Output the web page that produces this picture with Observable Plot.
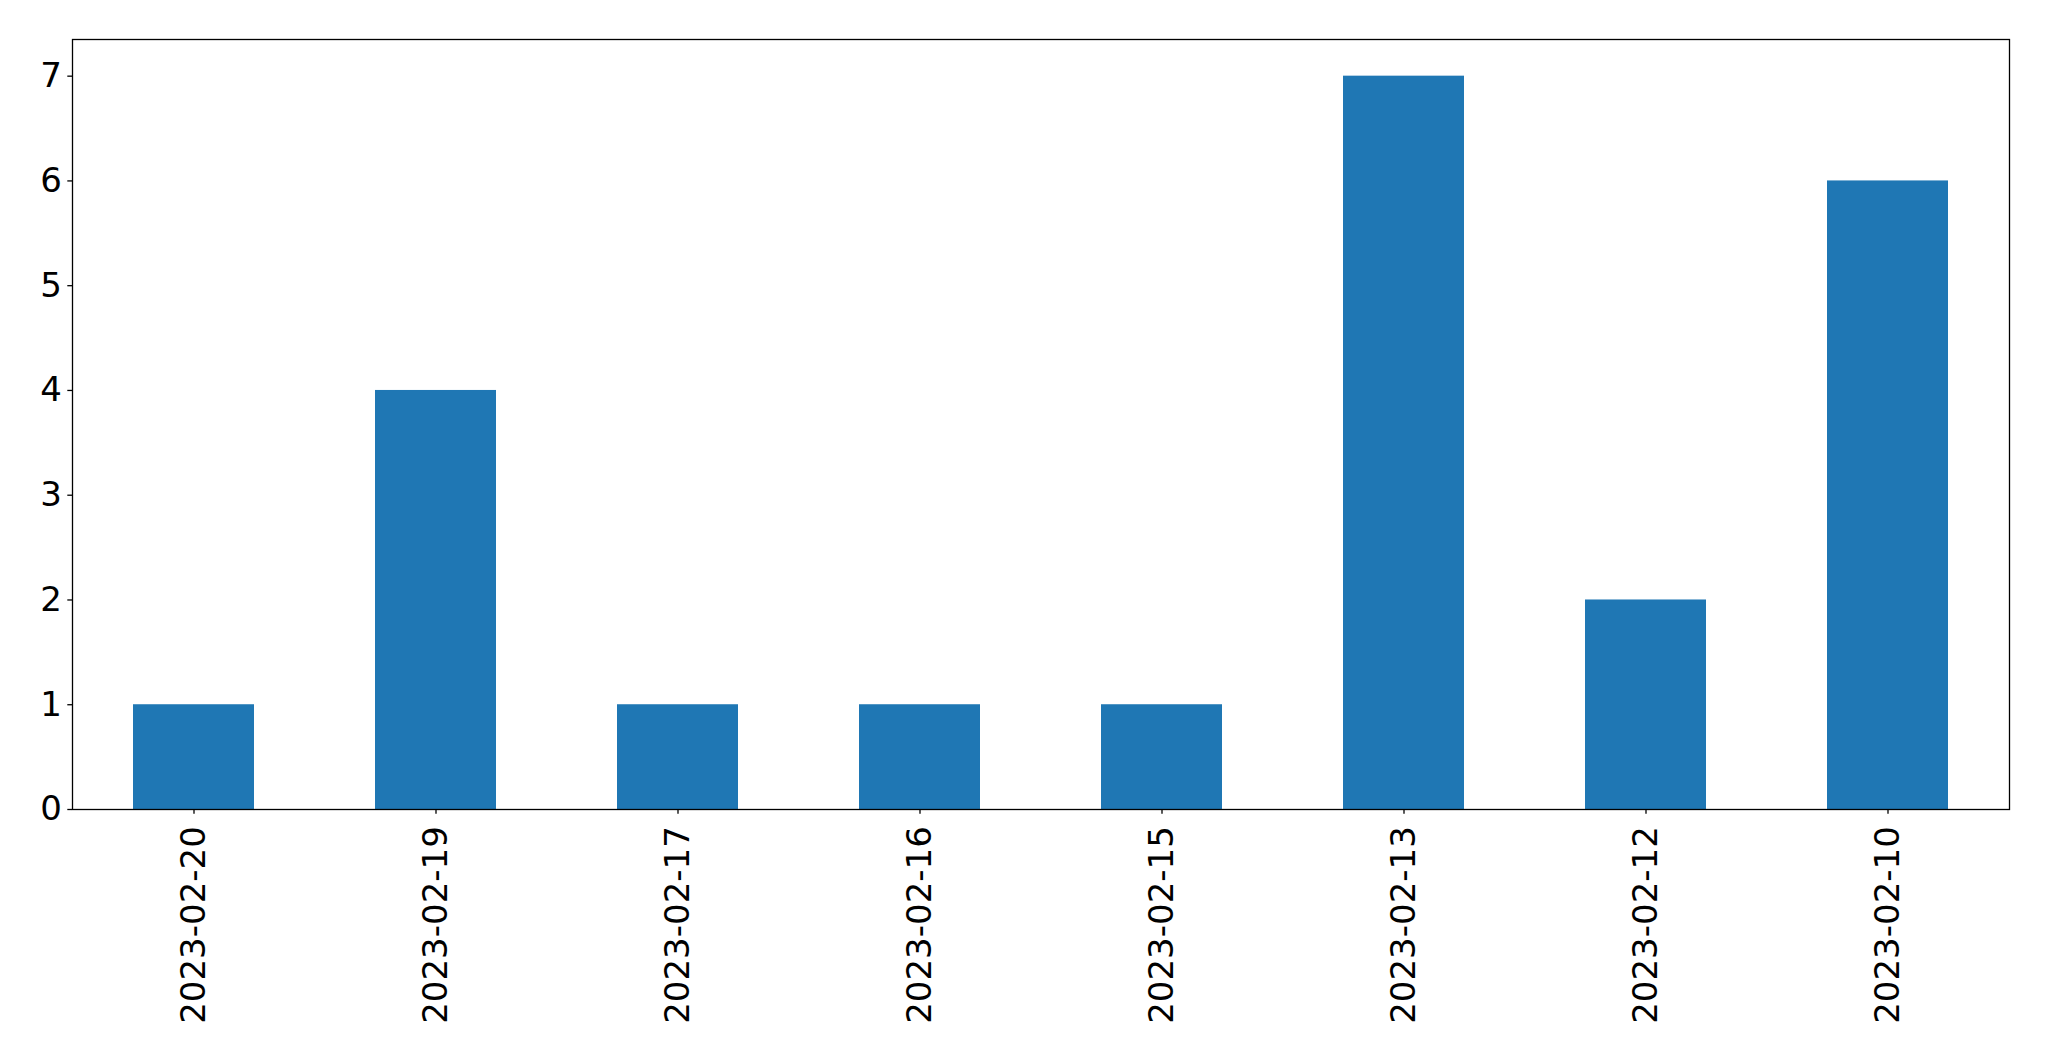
<!DOCTYPE html>
<html>
<head>
<meta charset="utf-8">
<script src="https://cdn.jsdelivr.net/npm/d3@7"></script>
<script src="https://cdn.jsdelivr.net/npm/@observablehq/plot@0.6"></script>
<style>
  html, body { margin: 0; padding: 0; background: #fff; }
  #chart svg { display: block; }
</style>
</head>
<body>
<div id="chart"></div>
<script>
const dates = ["2023-02-20", "2023-02-19", "2023-02-17", "2023-02-16", "2023-02-15", "2023-02-13", "2023-02-12", "2023-02-10"];
const counts = [1, 4, 1, 1, 1, 7, 2, 6];
const yTicks = [0, 1, 2, 3, 4, 5, 6, 7];

const data = dates.map((d, i) => ({date: d, count: counts[i]}));

const chart = Plot.plot({
  width: 2049,
  height: 1061,
  marginLeft: 72,
  marginRight: 40,
  marginTop: 39,
  marginBottom: 252,
  style: {background: "#fff", color: "black", fontFamily: "DejaVu Sans, sans-serif", fontSize: "34px"},
  x: {domain: dates, paddingInner: 0.5, paddingOuter: 0.25, align: 0.5},
  y: {domain: [0, 7.35]},
  marks: [
    Plot.barY(data, {x: "date", y: "count", fill: "#1f77b4"}),
    Plot.frame({stroke: "black", strokeWidth: 1.3}),
    Plot.axisY({ticks: yTicks, tickFormat: d => String(d), tickSize: 4.7, tickPadding: 6, fontSize: 34, strokeWidth: 1.3, label: null}),
    Plot.axisX({tickRotate: -90, tickSize: 4.7, tickPadding: 12, fontSize: 34, strokeWidth: 1.3, label: null})
  ]
});
document.getElementById("chart").appendChild(chart);
</script>
</body>
</html>
